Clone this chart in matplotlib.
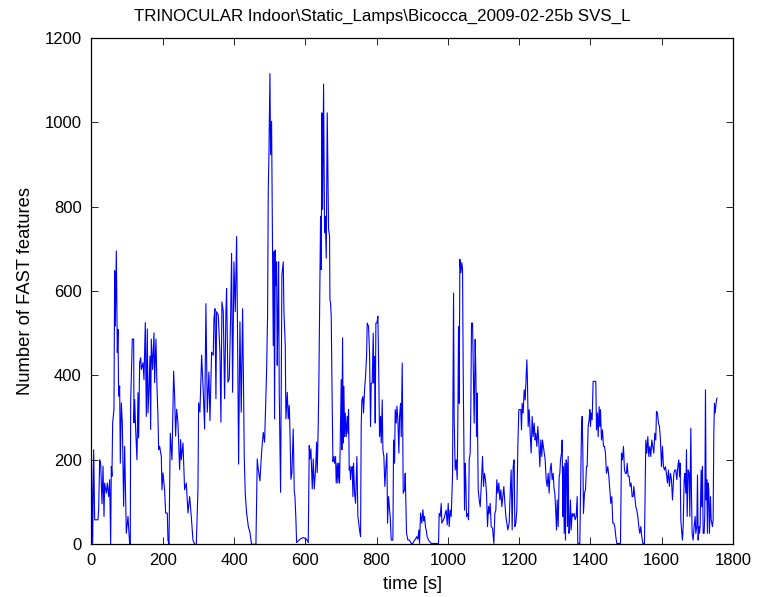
import matplotlib
matplotlib.use("Agg")
import matplotlib.pyplot as plt

# (time [s], number of FAST features), one list per stretch of time
seg_0_300 = [(0, 208), (3.3, 2), (6.1, 224), (8.9, 58), (18.2, 58), (20.1, 82), (22.9, 200), (25.7, 192),
             (29.5, 96), (32.3, 185), (35.1, 66), (36.9, 145), (41.6, 121), (44.4, 145), (48.2, 113), (51, 153),
             (52.8, 60), (53.8, 0), (55.6, 184), (57.4, 161), (59.4, 288), (63.1, 320), (65, 648), (66.9, 517),
             (69.7, 695), (72.5, 454), (74.3, 509), (76.2, 351), (79, 375), (80.9, 192), (83.7, 335), (86.5, 288),
             (90.2, 90), (93, 232), (97.7, 26), (102.4, 66), (107.1, 0), (108.9, 0), (109.9, 335), (114.5, 486),
             (118.3, 486), (119.2, 288), (121.1, 343), (123.9, 272), (127.6, 200), (130.4, 359), (132.3, 252),
             (135.1, 430), (137.9, 442), (139.8, 414), (144.5, 430), (147.3, 390), (151, 525), (153.8, 303),
             (156.6, 510), (158.5, 311), (161.3, 367), (164.1, 446), (166, 272), (167.8, 486), (171.6, 414),
             (175.3, 501), (177.2, 383), (180.9, 486), (183.7, 375), (186.5, 303), (188.4, 224), (191.2, 232),
             (195.9, 208), (197.8, 129), (200.5, 169), (205.2, 129), (208, 74), (212.7, 74), (214.6, 10), (217.4, 0),
             (221.1, 263), (225.8, 200), (230.5, 410), (233.3, 351), (236.1, 256), (238.9, 320), (242.6, 288),
             (247.3, 177), (250.1, 248), (252, 200), (256.7, 240), (261.3, 129), (266, 145), (270.7, 74),
             (275.4, 113), (280, 66), (284.7, 10), (289.4, 0), (294.1, 0), (298.7, 129), (300.6, 335)]

seg_300_640 = [(304.3, 313), (309, 448), (313.7, 360), (317.4, 273), (321.1, 570), (324.9, 313), (329.5, 408),
               (332.4, 293), (337, 455), (341.7, 448), (343.6, 535), (346.4, 558), (349.2, 345), (351.1, 551),
               (355.7, 543), (360.4, 455), (363.2, 289), (366, 574), (369.8, 551), (373.5, 345), (377.2, 551),
               (379.1, 606), (382.8, 384), (386.6, 392), (390.3, 535), (393.1, 689), (395.9, 360), (399.7, 669),
               (403.4, 551), (407.2, 729), (410, 479), (412.8, 190), (416.5, 527), (420.2, 313), (424, 558),
               (426.8, 360), (428.7, 202), (431.5, 119), (435.2, 75), (439.9, 43), (444.6, 28), (449.2, 0),
               (461.4, 0), (465.1, 202), (467.9, 178), (472.6, 150), (477.3, 218), (482, 265), (485.7, 242),
               (489.4, 352), (491.3, 408), (494.1, 543), (496, 836), (497.9, 923), (500.7, 1115), (502.5, 923),
               (505.3, 1002), (508.1, 685), (510, 471), (511.9, 693), (513.7, 297), (515.6, 697), (517.5, 614),
               (519.4, 669), (521.2, 424), (523.1, 535), (525, 669), (526.8, 360), (530.6, 123), (534.3, 638),
               (538.1, 669), (540, 551), (543.7, 471), (545.5, 297), (549.3, 360), (552.1, 297), (554.9, 329),
               (556.8, 273), (559.6, 154), (562.4, 170), (566.1, 273), (569, 123), (570.8, 115), (573.6, 59),
               (575.5, 4), (584.8, 12), (594.2, 16), (603.5, 12), (608.2, 4), (611, 234), (612.9, 202),
               (615.7, 226), (619.4, 131), (622.2, 202), (625, 131), (628.8, 178), (631.6, 242), (633.4, 170),
               (636.2, 281)]

seg_640_970 = [(638.1, 390), (642.8, 777), (644.6, 651), (646.5, 1022), (648.4, 793), (651.2, 1090), (654, 738),
               (655.9, 777), (658.7, 678), (661.5, 1022), (665.2, 746), (668, 730), (669, 580), (670.8, 572),
               (672.7, 540), (674.6, 390), (677.4, 196), (680.2, 208), (682.1, 192), (684.9, 208), (686.7, 145),
               (689.5, 192), (691.4, 145), (693.3, 192), (696.1, 145), (700.8, 390), (702.6, 224), (704.5, 489),
               (706.4, 240), (708.2, 374), (710.1, 255), (712, 311), (714.8, 255), (717.6, 303), (719.5, 263),
               (721.3, 319), (723.2, 176), (725.1, 184), (726.9, 153), (728.8, 176), (731.6, 184), (733.5, 113),
               (735.3, 192), (738.2, 121), (741, 97), (744.7, 208), (747.5, 66), (752.2, 34), (755, 18),
               (756.8, 280), (758.7, 342), (761.5, 350), (763.4, 311), (766.2, 366), (769, 398), (771.8, 445),
               (773.7, 524), (777.4, 516), (780.2, 453), (783, 279), (784.9, 382), (787.7, 382), (790.5, 500),
               (792.4, 382), (794.3, 445), (796.1, 287), (798, 524), (800.8, 524), (803.6, 540), (805.5, 437),
               (808.3, 255), (811.1, 303), (813, 240), (815.8, 342), (817.6, 224), (820.4, 208), (823.2, 137),
               (826.1, 184), (828.9, 216), (830.7, 50), (833.5, 113), (836.3, 82), (838.2, 66), (841, 10),
               (845.7, 10), (847.6, 247), (850.4, 192), (852.2, 319), (855, 287), (856.9, 327), (859.7, 295),
               (862.5, 216), (864.4, 303), (867.2, 334), (869.1, 255), (871.9, 429), (874.7, 121), (878.4, 129),
               (880.3, 168), (882.1, 97), (884, 26), (887.8, 10), (892.4, 10), (897.1, 2), (901.8, 2), (906.5, 10),
               (909.3, 12), (912.1, 18), (915.8, 12), (918.6, 34), (920.5, 2), (923.3, 74), (927, 50), (929.8, 82),
               (932.6, 55), (934.5, 66), (937.3, 40), (939.2, 34), (942, 18), (945.7, 10), (953.2, 2), (967, 2)]

seg_970_1300 = [(973.8, 2), (975.6, 73), (978.5, 66), (981.3, 97), (983.1, 50), (989.7, 62), (992.5, 73),
                (995.3, 81), (998.1, 46), (1000.9, 97), (1003.7, 42), (1006.5, 81), (1009.3, 66), (1013, 161),
                (1015.9, 595), (1017.7, 295), (1020.5, 176), (1023.3, 200), (1026.1, 153), (1028, 295), (1029.9, 516),
                (1031.8, 334), (1033.6, 675), (1036.4, 643), (1039.2, 667), (1041.1, 651), (1043, 406), (1044.8, 240),
                (1046.7, 81), (1048.6, 192), (1050.5, 145), (1052.3, 66), (1055.1, 73), (1058, 58), (1059.8, 200),
                (1062.6, 216), (1064.5, 334), (1066.3, 524), (1069.2, 524), (1071, 429), (1073.8, 287), (1076.6, 485),
                (1078.5, 406), (1080.4, 255), (1082.2, 358), (1085.1, 129), (1087.9, 105), (1090.7, 89), (1094.4, 153),
                (1097.2, 208), (1100, 137), (1102.8, 168), (1105.6, 153), (1108.4, 121), (1111.2, 42), (1114, 89),
                (1115.9, 73), (1118.7, 97), (1121.5, 42), (1125.3, 38), (1129, 2), (1131.8, 73), (1134.6, 81),
                (1137.4, 153), (1140.2, 121), (1143, 145), (1145.8, 105), (1148.6, 129), (1151.4, 89), (1154.2, 113),
                (1157, 137), (1159.9, 97), (1162.7, 66), (1165.5, 50), (1168.3, 34), (1172, 50), (1174.8, 121),
                (1177.6, 176), (1180.4, 34), (1183.2, 184), (1186, 200), (1187.9, 42), (1190.7, 50), (1193.5, 81),
                (1196.3, 232), (1199.1, 319), (1204.7, 319), (1206.6, 271), (1208.5, 334), (1211.3, 311),
                (1214.1, 366), (1216.9, 342), (1219.7, 398), (1221.6, 437), (1223.4, 382), (1225.3, 279),
                (1228.1, 319), (1230.9, 263), (1233.7, 216), (1236.5, 303), (1239.3, 255), (1242.1, 287),
                (1244.9, 247), (1246.8, 263), (1249.6, 232), (1252.4, 279), (1255.2, 240), (1258, 184), (1260.8, 247),
                (1263.6, 208), (1265.5, 247), (1269.3, 224), (1273, 200), (1275.8, 153), (1278.6, 137), (1281.4, 168),
                (1284.2, 121), (1287, 176), (1289.8, 192), (1292.6, 153), (1295.4, 168), (1298.2, 129)]

seg_1300_1635 = [(1300.1, 121), (1302.9, 73), (1304.8, 34), (1306.7, 105), (1309.5, 42), (1312.3, 161),
                 (1314.1, 168), (1316, 200), (1318.8, 216), (1320.7, 247), (1322.5, 66), (1324.4, 184), (1326.3, 26),
                 (1328.2, 192), (1330, 10), (1331.9, 200), (1333.8, 192), (1335.6, 42), (1337.5, 208), (1339.4, 26),
                 (1341.2, 34), (1344, 105), (1345.9, 34), (1348.7, 73), (1351.5, 66), (1354.3, 73), (1357.1, 58),
                 (1360, 66), (1362.8, 113), (1364.6, 2), (1370.2, 2), (1372.1, 113), (1374.9, 271), (1376.8, 303),
                 (1378.6, 224), (1380.5, 73), (1383.3, 121), (1386.1, 129), (1388.9, 184), (1390.8, 184),
                 (1393.6, 279), (1396.4, 295), (1398.3, 319), (1400.2, 279), (1402, 311), (1404.8, 295),
                 (1407.6, 386), (1415.1, 386), (1417, 271), (1419.8, 311), (1421.7, 255), (1424.5, 326),
                 (1426.3, 279), (1428.2, 319), (1431, 247), (1433.8, 271), (1436.6, 232), (1439.4, 232),
                 (1442.2, 216), (1445, 168), (1448.8, 184), (1451.6, 161), (1454.4, 129), (1457.2, 97), (1460, 113),
                 (1462.8, 50), (1465.6, 50), (1468.4, 42), (1471.2, 18), (1474, 2), (1484.3, 2), (1487.1, 216),
                 (1489.9, 200), (1492.7, 232), (1495.5, 176), (1498.3, 168), (1501.1, 168), (1503, 192),
                 (1505.8, 161), (1508.6, 161), (1511.4, 137), (1514.2, 145), (1517, 113), (1519.8, 113),
                 (1521.7, 137), (1524.5, 113), (1527.3, 89), (1530.1, 81), (1532.9, 66), (1535.7, 42), (1538.5, 26),
                 (1541.3, 42), (1544.1, 18), (1547, 2), (1551.6, 2), (1555.4, 247), (1558.2, 216), (1561, 255),
                 (1563.8, 208), (1566.6, 232), (1569.4, 208), (1572.2, 247), (1575, 232), (1577.8, 216),
                 (1580.6, 263), (1583.4, 247), (1585.3, 315), (1588.1, 311), (1590.9, 287), (1593.7, 279),
                 (1596.5, 247), (1599.3, 184), (1602.1, 232), (1604.9, 184), (1607.7, 176), (1610.5, 184),
                 (1613.3, 168), (1616.1, 145), (1618.9, 176), (1621.7, 137), (1624.6, 168), (1627.4, 153),
                 (1630.2, 105), (1633, 153)]

seg_1635_end = [(1634, 168), (1636.8, 176), (1639.6, 176), (1642.4, 153), (1645.2, 184), (1648, 200),
                (1649.9, 161), (1651.7, 192), (1653.6, 58), (1656.4, 26), (1658.3, 10), (1660.2, 42), (1663, 153),
                (1664.8, 168), (1667.6, 121), (1669.5, 224), (1671.4, 66), (1674.2, 176), (1677, 168), (1678.9, 66),
                (1681.7, 275), (1683.5, 121), (1685.4, 26), (1688.2, 10), (1691, 42), (1693.8, 66), (1695.7, 26),
                (1698.5, 42), (1700.4, 164), (1702.2, 10), (1704.1, 42), (1706, 26), (1707.8, 42), (1710.6, 176),
                (1712.5, 89), (1714.4, 184), (1716.3, 26), (1719.1, 26), (1720.9, 73), (1722.8, 366), (1724.7, 105),
                (1726.5, 153), (1728.4, 26), (1730.3, 145), (1732.1, 129), (1734, 26), (1736.8, 113), (1738.7, 58),
                (1740.6, 50), (1742.4, 42), (1744.3, 58), (1746.2, 263), (1748, 334), (1749.9, 311), (1751.8, 326),
                (1753.7, 342), (1755.5, 346)]

segments = [seg_0_300, seg_300_640, seg_640_970, seg_970_1300, seg_1300_1635, seg_1635_end]
time_s = [p[0] for seg in segments for p in seg]
n_features = [p[1] for seg in segments for p in seg]

plt.rcParams['font.family'] = ['Liberation Sans', 'DejaVu Sans']
plt.rcParams['font.size'] = 12

fig = plt.figure(figsize=(7.58, 5.97), dpi=100)
ax = fig.add_axes([0.1207, 0.0883, 0.8463, 0.8486])
ax.plot(time_s, n_features, color='#0000ff', linewidth=0.8)

ax.set_xlim(0, 1800)
ax.set_ylim(0, 1200)
ax.set_xticks(range(0, 1801, 200))
ax.set_yticks(range(0, 1201, 200))
ax.tick_params(direction='in', top=True, right=True, length=5, width=0.6)
ax.tick_params(axis='x', pad=6)
ax.tick_params(axis='y', pad=7)
for s in ax.spines.values():
    s.set_linewidth(0.9)

ax.set_title('TRINOCULAR Indoor\\Static_Lamps\\Bicocca_2009-02-25b SVS_L', fontsize=12.2, pad=12, x=0.454)
ax.set_xlabel('time [s]', fontsize=13.2, labelpad=6)
ax.set_ylabel('Number of FAST features', fontsize=13.2, labelpad=8)

fig.savefig('out.png', dpi=100)
